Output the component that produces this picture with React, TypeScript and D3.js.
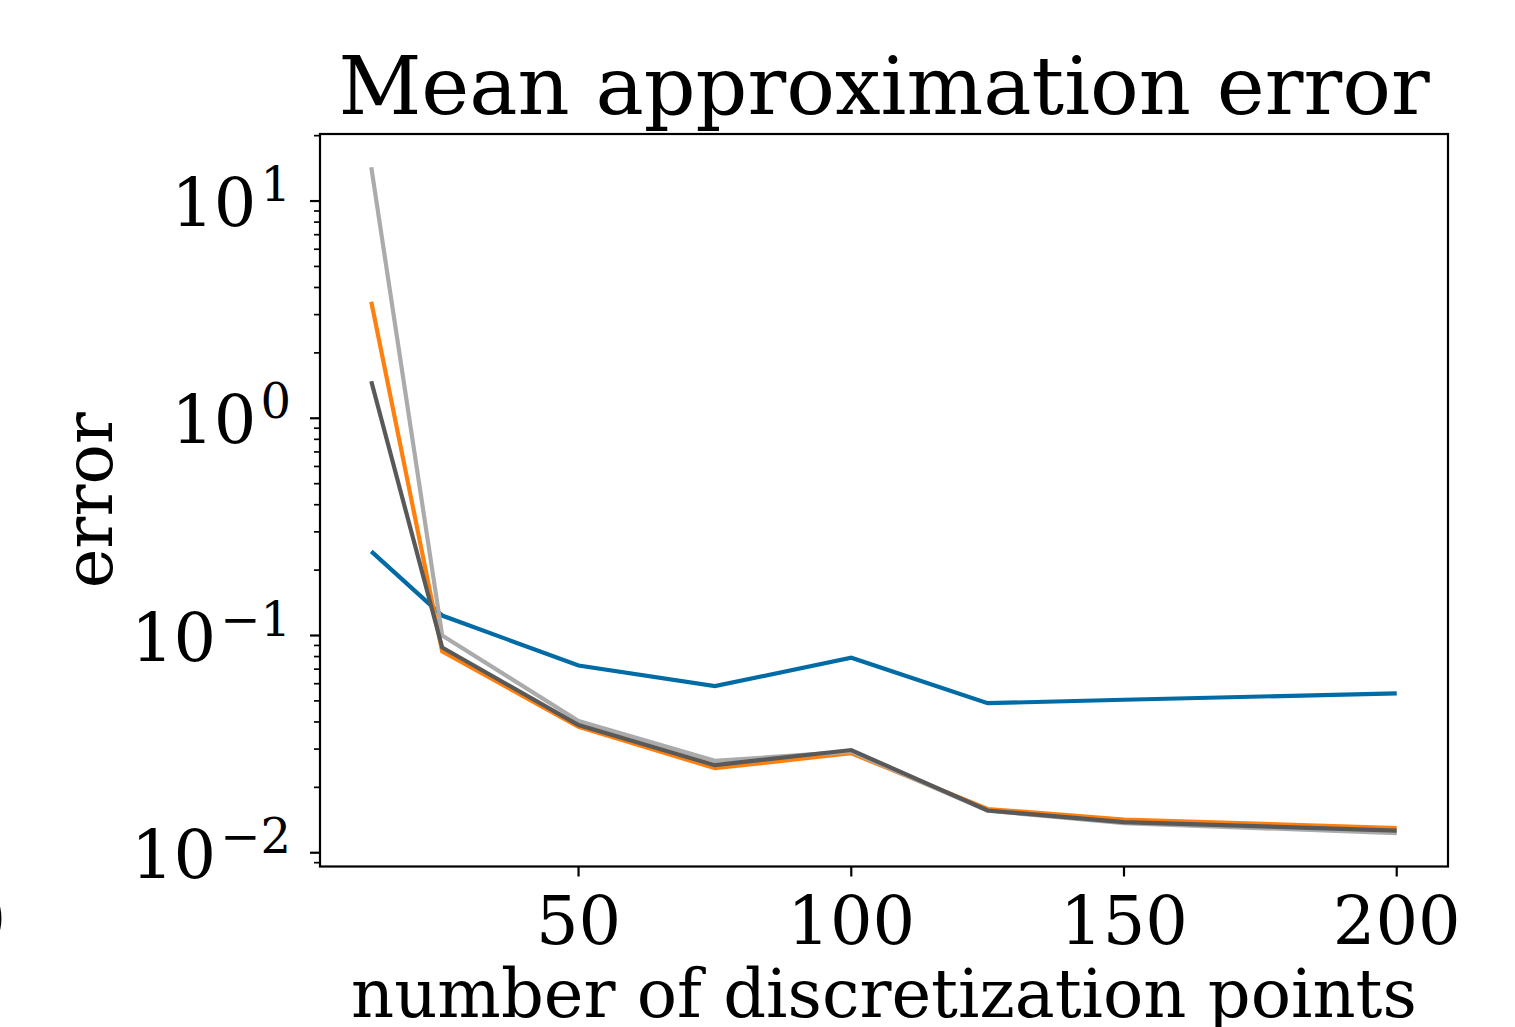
import React from "react";
import * as d3 from "d3";

// discretization points and mean errors per method
const xPoints = [12, 25, 50, 75, 100, 125, 150, 200];
const blueErr = [0.244, 0.1235, 0.0728, 0.0585, 0.079, 0.0488, 0.0506, 0.0542];
const orangeErr = [3.44, 0.0845, 0.038, 0.0245, 0.0287, 0.0159, 0.0142, 0.013];
const lightErr = [14.3, 0.1, 0.0404, 0.0265, 0.0292, 0.0156, 0.0137, 0.0123];
const darkErr = [1.48, 0.0881, 0.0387, 0.0253, 0.0297, 0.01564, 0.01383, 0.01265];
const xTicks = [50, 100, 150, 200];
const yExps = [-2, -1, 0, 1];

const series = [
  { vals: blueErr, color: "#006BA4" },
  { vals: orangeErr, color: "#FF800E" },
  { vals: lightErr, color: "#ABABAB" },
  { vals: darkErr, color: "#595959" },
];

const W = 1515;
const H = 1027;
const left = 320;
const right = 1448;
const top = 134;
const bottom = 866.5;
const font = "DejaVu Serif";

const App = () => {
  // matplotlib style 5% margins
  const [x0, x1] = d3.extent(xPoints) as [number, number];
  const xm = (x1 - x0) * 0.05;
  const xScale = d3.scaleLinear().domain([x0 - xm, x1 + xm]).range([left, right]);

  const all = series.flatMap((s) => s.vals);
  const l0 = Math.log10(d3.min(all)!);
  const l1 = Math.log10(d3.max(all)!);
  const lm = (l1 - l0) * 0.05;
  const yScale = d3
    .scaleLog()
    .domain([Math.pow(10, l0 - lm), Math.pow(10, l1 + lm)])
    .range([bottom, top]);

  const line = d3
    .line<number>()
    .x((d, i) => xScale(xPoints[i]))
    .y((d) => yScale(d));

  const [d0, d1] = yScale.domain();
  const minor: number[] = [];
  for (let e = -3; e <= 2; e++) {
    for (let k = 2; k <= 9; k++) {
      const v = k * Math.pow(10, e);
      if (v >= d0 && v <= d1) minor.push(v);
    }
  }

  return (
    <svg
      width={W}
      height={H}
      style={{ position: "absolute", left: 0, top: 0, background: "white" }}
      fontFamily={font}
    >
      {/* lines */}
      {series.map((s, i) => (
        <path
          key={i}
          d={line(s.vals) || ""}
          fill="none"
          stroke={s.color}
          strokeWidth={4.2}
          strokeLinejoin="miter"
        />
      ))}

      {/* frame */}
      <rect
        x={left}
        y={top}
        width={right - left}
        height={bottom - top}
        fill="none"
        stroke="black"
        strokeWidth={2.2}
      />

      {/* x ticks */}
      {xTicks.map((t) => (
        <g key={t} transform={`translate(${xScale(t)},${bottom})`}>
          <line y1={0} y2={10} stroke="black" strokeWidth={2.2} />
          <text y={77} textAnchor="middle" fontSize={67}>
            {t}
          </text>
        </g>
      ))}

      {/* y minor ticks */}
      {minor.map((v, i) => (
        <line
          key={i}
          x1={left - 6}
          x2={left}
          y1={yScale(v)}
          y2={yScale(v)}
          stroke="black"
          strokeWidth={1.7}
        />
      ))}

      {/* y major ticks */}
      {yExps.map((e) => {
        const y = yScale(Math.pow(10, e));
        return (
          <g key={e}>
            <line x1={left - 10} x2={left} y1={y} y2={y} stroke="black" strokeWidth={2.2} />
            <text x={291} y={y + 25} textAnchor="end" fontSize={67}>
              10
              <tspan fontSize={48} dx={4} dy={-25}>
                {e < 0 ? "\u2212" + Math.abs(e) : String(e)}
              </tspan>
            </text>
          </g>
        );
      })}

      {/* title and labels */}
      <text x={(left + right) / 2} y={114} textAnchor="middle" fontSize={81}>
        Mean approximation error
      </text>
      <text x={(left + right) / 2} y={1017} textAnchor="middle" fontSize={67}>
        number of discretization points
      </text>
      <text
        transform={`translate(112,${(top + bottom) / 2}) rotate(-90)`}
        textAnchor="middle"
        fontSize={67}
      >
        error
      </text>

      {/* clipped label from the neighbouring panel */}
      <text x={6} y={943} textAnchor="end" fontSize={67}>
        0
      </text>
    </svg>
  );
};

export default App;
